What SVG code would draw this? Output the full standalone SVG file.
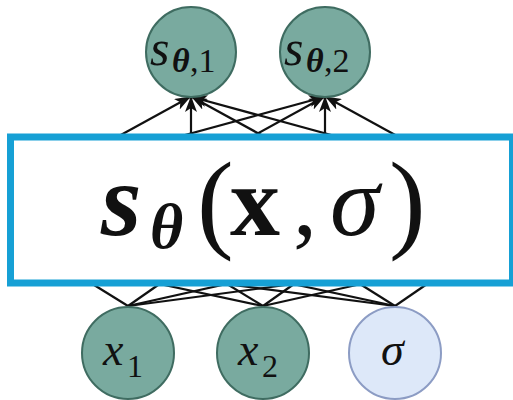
<svg xmlns="http://www.w3.org/2000/svg" width="513" height="400" viewBox="0 0 513 400">
<style>
.edge{stroke:#111;stroke-width:2.2;fill:none}
.teal{fill:#79aa9f;stroke:#3f6c61;stroke-width:2}
.light{fill:#dde8f9;stroke:#8c9cc4;stroke-width:2}
</style>
<defs>
<marker id="ah" markerUnits="userSpaceOnUse" markerWidth="16" markerHeight="12" refX="15" refY="6" orient="auto">
<path d="M0,0 L16,6 L0,12 L4,6 Z" fill="#111"/>
</marker>
</defs>
<rect width="513" height="400" fill="#fff"/>
<g id="connectors">
<line class="edge" x1="57" y1="170" x2="190" y2="97" marker-end="url(#ah)"/>
<line class="edge" x1="191" y1="170" x2="191" y2="97" marker-end="url(#ah)"/>
<line class="edge" x1="325" y1="170" x2="192" y2="97" marker-end="url(#ah)"/>
<line class="edge" x1="459" y1="170" x2="192" y2="97" marker-end="url(#ah)"/>
<line class="edge" x1="57" y1="170" x2="324" y2="97" marker-end="url(#ah)"/>
<line class="edge" x1="191" y1="170" x2="324" y2="97" marker-end="url(#ah)"/>
<line class="edge" x1="325" y1="170" x2="325" y2="97" marker-end="url(#ah)"/>
<line class="edge" x1="459" y1="170" x2="326" y2="97" marker-end="url(#ah)"/>
<line class="edge" x1="128" y1="306" x2="57" y2="262"/>
<line class="edge" x1="128" y1="306" x2="191" y2="262"/>
<line class="edge" x1="128" y1="306" x2="325" y2="262"/>
<line class="edge" x1="128" y1="306" x2="459" y2="262"/>
<line class="edge" x1="263" y1="306" x2="57" y2="262"/>
<line class="edge" x1="263" y1="306" x2="191" y2="262"/>
<line class="edge" x1="263" y1="306" x2="325" y2="262"/>
<line class="edge" x1="263" y1="306" x2="459" y2="262"/>
<line class="edge" x1="395" y1="306" x2="57" y2="262"/>
<line class="edge" x1="395" y1="306" x2="191" y2="262"/>
<line class="edge" x1="395" y1="306" x2="325" y2="262"/>
<line class="edge" x1="395" y1="306" x2="459" y2="262"/>
</g>
<g id="node-s1">
<circle class="teal" cx="191" cy="52" r="45"/>
<text font-family="Liberation Serif, DejaVu Serif, serif" fill="#111" y="65"><tspan font-style="italic" x="150" font-size="50">s</tspan><tspan font-style="italic" font-weight="bold" x="172" y="72" font-size="34">θ</tspan><tspan x="190" y="72" font-size="34">,1</tspan></text>
</g>
<g id="node-s2">
<circle class="teal" cx="325" cy="52" r="45"/>
<text font-family="Liberation Serif, DejaVu Serif, serif" fill="#111" y="65"><tspan font-style="italic" x="284" font-size="50">s</tspan><tspan font-style="italic" font-weight="bold" x="306" y="72" font-size="34">θ</tspan><tspan x="324" y="72" font-size="34">,2</tspan></text>
</g>
<g id="node-x1">
<circle class="teal" cx="128" cy="353" r="46"/>
<text font-family="Liberation Serif, DejaVu Serif, serif" fill="#111" y="365"><tspan font-style="italic" x="103" font-size="46">x</tspan><tspan x="127" y="377" font-size="32">1</tspan></text>
</g>
<g id="node-x2">
<circle class="teal" cx="263" cy="353" r="46"/>
<text font-family="Liberation Serif, DejaVu Serif, serif" fill="#111" y="365"><tspan font-style="italic" x="238" font-size="46">x</tspan><tspan x="262" y="377" font-size="32">2</tspan></text>
</g>
<g id="node-sigma">
<circle class="light" cx="395" cy="353" r="46"/>
<text font-family="Liberation Serif, DejaVu Serif, serif" font-style="italic" fill="#111" x="381" y="365" font-size="46">σ</text>
</g>
<g id="node-box">
<rect x="10.5" y="137" width="502" height="146" fill="#fff" stroke="#16a0d5" stroke-width="7"/>
<text font-family="Liberation Serif, DejaVu Serif, serif" fill="#111" y="235"><tspan font-style="italic" font-weight="bold" x="101" font-size="104">s</tspan><tspan font-style="italic" font-weight="bold" x="150" y="248" font-size="64">θ</tspan><tspan x="197" y="238" font-size="110">(</tspan><tspan font-weight="bold" x="230" font-size="100" y="235">x</tspan><tspan x="293" font-size="96">,</tspan><tspan font-style="italic" x="330" font-size="100">σ</tspan><tspan x="389" y="238" font-size="110">)</tspan></text>
</g>
</svg>
